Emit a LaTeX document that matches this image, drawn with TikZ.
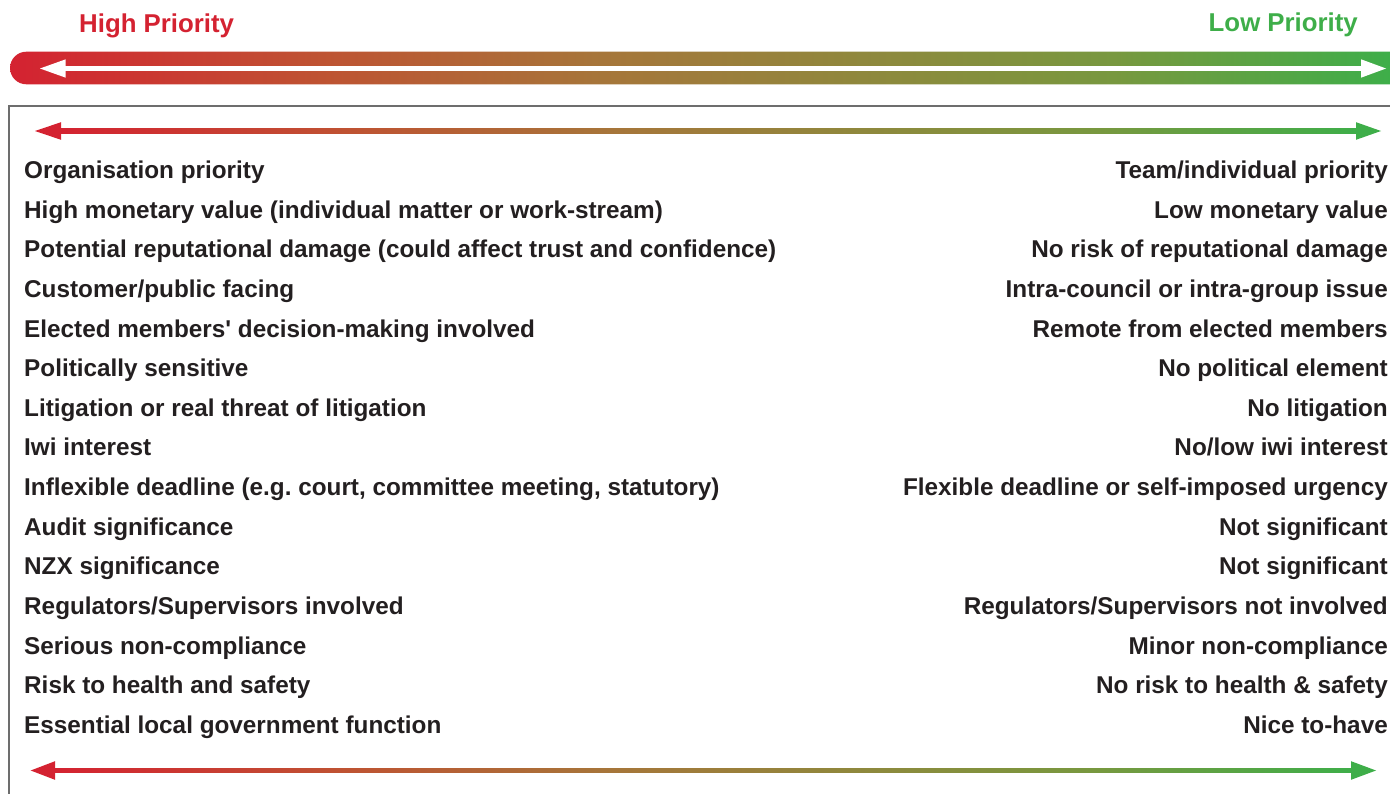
\documentclass[tikz,border=0pt]{standalone}
\usepackage{fontspec}
\setmainfont{Liberation Sans}[Ligatures=TeXOff]
\frenchspacing
\definecolor{pr}{HTML}{D42231}
\definecolor{p1}{HTML}{BF5232}
\definecolor{p2}{HTML}{A6763A}
\definecolor{p3}{HTML}{8B8B3D}
\definecolor{p4}{HTML}{78983F}
\definecolor{pg}{HTML}{3EAE49}
\definecolor{textc}{HTML}{231F20}
\definecolor{boxc}{HTML}{6D6D6D}
\pgfdeclarehorizontalshading{prio}{100bp}{color(0bp)=(pr); color(25bp)=(pr); color(36bp)=(p1); color(46.5bp)=(p2); color(57.5bp)=(p3); color(65bp)=(p4); color(75bp)=(pg); color(100bp)=(pg)}
\begin{document}
\begin{tikzpicture}[x=1pt,y=-1pt,
  txt/.style={font=\fontsize{24.3}{28}\selectfont\bfseries, text=textc, inner sep=0},
  ttl/.style={font=\fontsize{25.8}{30}\selectfont\bfseries, inner sep=0}]
\useasboundingbox (0,0) rectangle (1390,794);
% titles
\node[ttl, text=pr, anchor=base west] (hp) at (79,33) {High Priority};
\node[ttl, text=pg, anchor=base east] (lp) at (1358,32) {Low Priority};
% top bar
\shade[shading=prio] (1390,51.7) -- (26.3,51.7) arc[start angle=270, end angle=90, radius=16.3] -- (1390,84.3) -- cycle;
\fill[white] (64,66.2) rectangle (1362,70.8);
\fill[white] (40,68.5) -- (65.7,59.3) -- (65.7,77.7) -- cycle;
\fill[white] (1386,68.5) -- (1361,59.3) -- (1361,77.7) -- cycle;
% box
\draw[boxc, line width=2pt] (9,794) -- (9,106) -- (1390,106);
% top inner arrow
\shade[shading=prio] (59,129) rectangle (1358,133.2);
\fill[pr] (35,131) -- (61,122.2) -- (61,139.8) -- cycle;
\fill[pg] (1381,131) -- (1356,122.2) -- (1356,139.8) -- cycle;
% bottom arrow
\shade[shading=prio] (53,768.3) rectangle (1353,772.7);
\fill[pr] (30.7,770.5) -- (55,761.2) -- (55,779.8) -- cycle;
\fill[pg] (1376,770.5) -- (1351,761.2) -- (1351,779.8) -- cycle;
% rows
\def\rowgap{39.64}
\foreach \l/\r [count=\i from 0] in {
  {Organisation priority}/{Team/individual priority},
  {High monetary value (individual matter or work-stream)}/{Low monetary value},
  {Potential reputational damage (could affect trust and confidence)}/{No risk of reputational damage},
  {Customer/public facing}/{Intra-council or intra-group issue},
  {Elected members' decision-making involved}/{Remote from elected members},
  {Politically sensitive}/{No political element},
  {Litigation or real threat of litigation}/{No litigation},
  {Iwi interest}/{No/low iwi interest},
  {Inflexible deadline (e.g. court, committee meeting, statutory)}/{Flexible deadline or self-imposed urgency},
  {Audit significance}/{Not significant},
  {NZX significance}/{Not significant},
  {Regulators/Supervisors involved}/{Regulators/Supervisors not involved},
  {Serious non-compliance}/{Minor non-compliance},
  {Risk to health and safety}/{No risk to health \& safety},
  {Essential local government function}/{Nice to-have}}
{
  \pgfmathsetmacro{\yy}{178.5+\rowgap*\i}
  \node[txt, anchor=base west] (l\i) at (24,\yy) {\l};
  \node[txt, anchor=base east] (r\i) at (1388,\yy) {\r};
}
\end{tikzpicture}
\end{document}
